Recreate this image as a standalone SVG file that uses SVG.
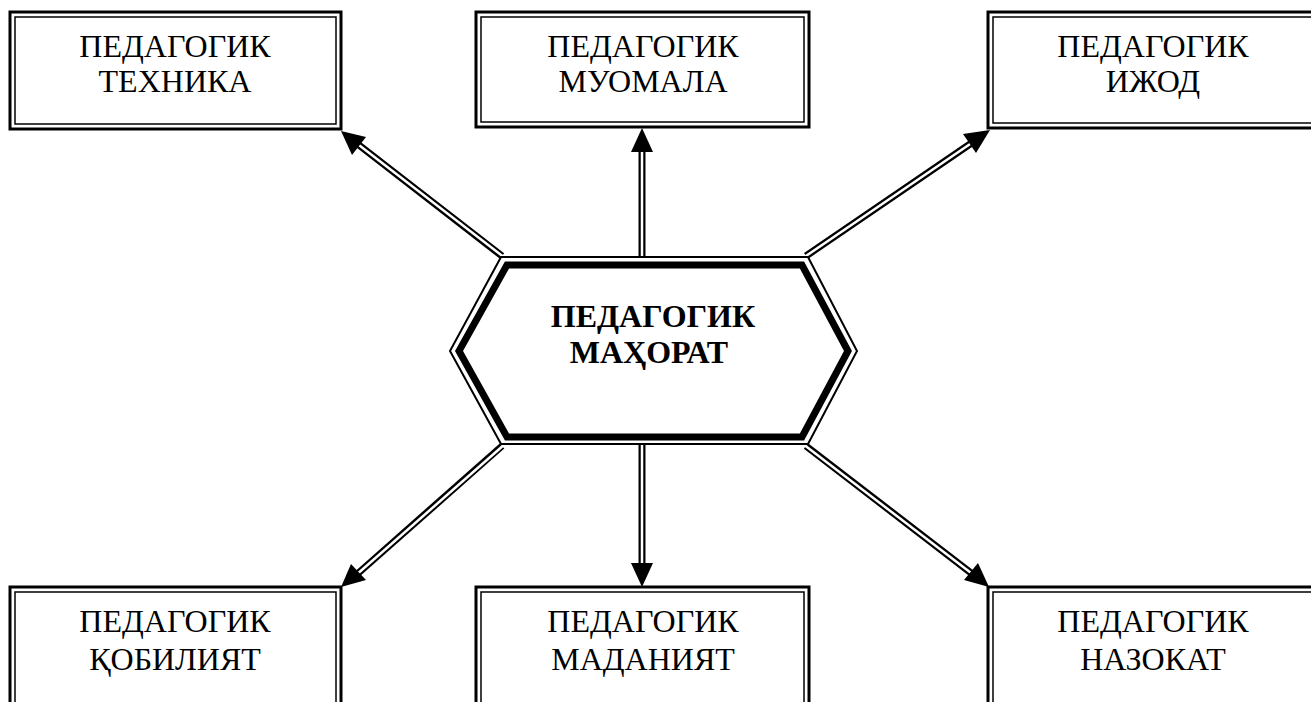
<svg xmlns="http://www.w3.org/2000/svg" width="1311" height="702" viewBox="0 0 1311 702">
<defs>
<style>
.ob{fill:#fff;stroke:#000;stroke-width:3}
.ib{fill:none;stroke:#000;stroke-width:1.5}
.t{font-family:"Liberation Serif","DejaVu Serif",serif;font-size:32px;text-anchor:middle;fill:#000}
.tb{font-family:"Liberation Serif","DejaVu Serif",serif;font-size:32px;font-weight:bold;text-anchor:middle;fill:#000}
.lo{stroke:#000;stroke-width:7;fill:none}
.li{stroke:#fff;stroke-width:2.5;fill:none}
.ah{fill:#000}
</style>
</defs>
<rect width="1311" height="702" fill="#fff"/>
<g id="connectors">
<line class="lo" x1="502" y1="256" x2="355" y2="142"/>
<line class="li" x1="505" y1="258" x2="355" y2="142"/>
<polygon class="ah" points="341,131 366,137 352,155"/>
<line class="lo" x1="642" y1="257" x2="642" y2="150"/>
<line class="li" x1="642" y1="258" x2="642" y2="150"/>
<polygon class="ah" points="642,128 653,152 631,152"/>
<line class="lo" x1="806" y1="256" x2="976" y2="140"/>
<line class="li" x1="803" y1="258" x2="976" y2="140"/>
<polygon class="ah" points="990,130 976,153 963,134"/>
<line class="lo" x1="502" y1="446" x2="355" y2="576"/>
<line class="li" x1="505" y1="444" x2="355" y2="576"/>
<polygon class="ah" points="341,587 351,564 366,580"/>
<line class="lo" x1="642" y1="445" x2="642" y2="565"/>
<line class="li" x1="642" y1="444" x2="642" y2="565"/>
<polygon class="ah" points="642,587 631,563 653,563"/>
<line class="lo" x1="806" y1="446" x2="975" y2="576"/>
<line class="li" x1="803" y1="444" x2="975" y2="576"/>
<polygon class="ah" points="989,587 964,580 978,563"/>
</g>
<g id="center">
<polygon points="501,257 808,257 857,351 808,444 501,444 450,351" fill="#fff" stroke="#000" stroke-width="2"/>
<polygon points="507,265 802,265 848,351 802,437 507,437 459,351" fill="#fff" stroke="#000" stroke-width="7"/>
<text class="tb" x="653" y="327">ПЕДАГОГИК</text>
<text class="tb" x="649" y="363">МАҲОРАТ</text>
</g>
<g id="n-tech">
<rect class="ob" x="10" y="12" width="331" height="117"/>
<rect class="ib" x="15" y="17" width="321" height="107"/>
<text class="t" x="175" y="57">ПЕДАГОГИК</text>
<text class="t" x="175" y="92">ТЕХНИКА</text>
</g>
<g id="n-muomala">
<rect class="ob" x="476" y="12" width="333" height="115"/>
<rect class="ib" x="481" y="17" width="323" height="105"/>
<text class="t" x="643" y="57">ПЕДАГОГИК</text>
<text class="t" x="643" y="92">МУОМАЛА</text>
</g>
<g id="n-ijod">
<rect class="ob" x="988" y="12" width="340" height="116"/>
<rect class="ib" x="993" y="17" width="330" height="106"/>
<text class="t" x="1153" y="57">ПЕДАГОГИК</text>
<text class="t" x="1153" y="92">ИЖОД</text>
</g>
<g id="n-qobiliyat">
<rect class="ob" x="10" y="587" width="331" height="130"/>
<rect class="ib" x="15" y="592" width="321" height="130"/>
<text class="t" x="175" y="632">ПЕДАГОГИК</text>
<text class="t" x="175" y="670">ҚОБИЛИЯТ</text>
</g>
<g id="n-madaniyat">
<rect class="ob" x="476" y="587" width="333" height="130"/>
<rect class="ib" x="481" y="592" width="323" height="130"/>
<text class="t" x="643" y="632">ПЕДАГОГИК</text>
<text class="t" x="643" y="670">МАДАНИЯТ</text>
</g>
<g id="n-nazokat">
<rect class="ob" x="988" y="587" width="340" height="130"/>
<rect class="ib" x="993" y="592" width="330" height="130"/>
<text class="t" x="1153" y="632">ПЕДАГОГИК</text>
<text class="t" x="1153" y="670">НАЗОКАТ</text>
</g>
</svg>
